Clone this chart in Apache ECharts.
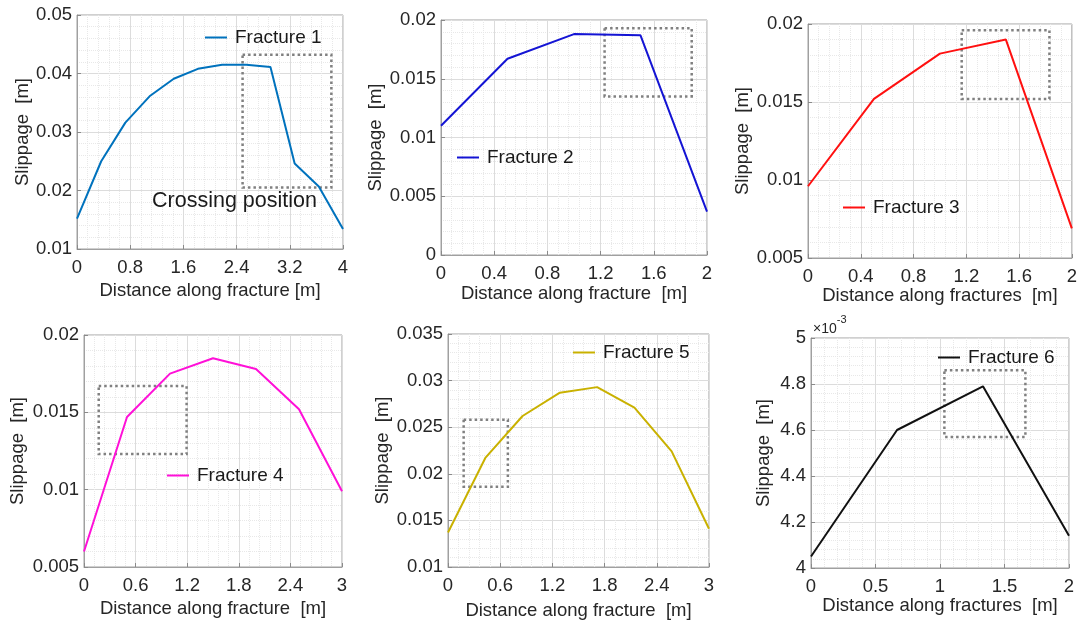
<!DOCTYPE html>
<html>
<head>
<meta charset="utf-8">
<script src="https://cdn.jsdelivr.net/npm/echarts@6/dist/echarts.min.js"></script>
<style>
html,body{margin:0;padding:0;background:#fff;}
#main{width:1080px;height:625px;}
</style>
</head>
<body>
<div id="main"></div>
<script>
// ---- data ----
const names = ['Fracture 1','Fracture 2','Fracture 3','Fracture 4','Fracture 5','Fracture 6'];
const colors = ['#0072bd','#1414d4','#ff1010','#ff10d8','#c9b100','#111111'];
const f1X = [0, 0.364, 0.727, 1.091, 1.455, 1.818, 2.182, 2.545, 2.909, 3.273, 3.636, 4];
const f1Y = [0.0152, 0.0250, 0.0316, 0.0361, 0.0391, 0.0408, 0.0415, 0.0415, 0.0411, 0.0246, 0.0207, 0.0134];
const f2X = [0, 0.5, 1, 1.5, 2];
const f2Y = [0.0110, 0.0167, 0.0188, 0.0187, 0.0037];
const f3X = [0, 0.5, 1, 1.5, 2];
const f3Y = [0.0096, 0.0152, 0.0181, 0.0190, 0.0069];
const f4X = [0, 0.5, 1, 1.5, 2, 2.5, 3];
const f4Y = [0.0060, 0.0147, 0.0175, 0.0185, 0.0178, 0.0152, 0.0099];
const f5X = [0, 0.429, 0.857, 1.286, 1.714, 2.143, 2.571, 3];
const f5Y = [0.0137, 0.0217, 0.0262, 0.0287, 0.0293, 0.0271, 0.0224, 0.0141];
const f6X = [0, 0.667, 1.333, 2];
const f6Y = [0.00405, 0.00460, 0.00479, 0.00414];
// crossing-position boxes: [x1, y1, x2, y2]
const boxes = [
  [2.49, 0.0432, 3.825, 0.0205],
  [1.23, 0.0193, 1.885, 0.0135],
  [1.165, 0.0196, 1.83, 0.0152],
  [0.171, 0.0167, 1.193, 0.0123],
  [0.18, 0.0258, 0.688, 0.0186],
  [1.034, 0.00486, 1.662, 0.00457]
];
// axis ranges: [min, max, interval]
const xRanges = [[0,4,0.8],[0,2,0.4],[0,2,0.4],[0,3,0.6],[0,3,0.6],[0,2,0.5]];
const yRanges = [[0.01,0.05,0.01],[0,0.02,0.005],[0.005,0.02,0.005],[0.005,0.02,0.005],[0.01,0.035,0.005],[0.004,0.005,0.0002]];
const xNames = ['Distance along fracture [m]','Distance along fracture  [m]','Distance along fractures  [m]',
                'Distance along fracture  [m]','Distance along fracture  [m]','Distance along fractures  [m]'];
const yName = 'Slippage  [m]';
const xs = [f1X,f2X,f3X,f4X,f5X,f6X];
const ys = [f1Y,f2Y,f3Y,f4Y,f5Y,f6Y];

// ---- layout ----
const grids = [
  {left:77, top:15, width:266, height:234},
  {left:441, top:20, width:266, height:235},
  {left:808, top:24, width:264, height:234},
  {left:84, top:335, width:258, height:232},
  {left:448, top:334, width:261, height:233},
  {left:811, top:338, width:258, height:230}
];
const yNameGap = [45, 53, 55, 57, 53, 38];
const xNameGap = [32, 29, 24, 32, 34, 23];
const legendPos = [[205,28],[457,148],[843,198],[167,466],[573,343],[938,348]];
const FONT = '"Liberation Sans", Arial, sans-serif';
const FS = 18.5;
const TXT = '#262626';

const option = {
  backgroundColor:'#fff',
  animation:false,
  grid: grids.map(g => Object.assign({show:true, borderColor:'#a0a0a0', borderWidth:1, backgroundColor:'transparent', containLabel:false}, g)),
  xAxis: xRanges.map((r,i)=>({
    type:'value', gridIndex:i, min:r[0], max:r[1], interval:r[2],
    name:xNames[i], nameLocation:'middle', nameGap:xNameGap[i],
    nameTextStyle:{fontFamily:FONT, fontSize:FS, color:TXT},
    axisLine:{show:true, lineStyle:{color:'#a0a0a0'}},
    axisTick:{show:true, inside:true, length:4, lineStyle:{color:'#8a8a8a'}},
    axisLabel:{fontFamily:FONT, fontSize:FS, color:TXT, margin:9},
    splitLine:{show:true, lineStyle:{color:'#dcdcdc', width:1}},
    minorTick:{show:false, splitNumber:5},
    minorSplitLine:{show:true, lineStyle:{color:'#e8e8e8', width:1, type:'dotted'}}
  })),
  yAxis: yRanges.map((r,i)=>({
    type:'value', gridIndex:i, min:r[0], max:r[1], interval:r[2],
    name:yName, nameLocation:'middle', nameGap:yNameGap[i],
    nameTextStyle:{fontFamily:FONT, fontSize:FS, color:TXT},
    axisLine:{show:true, lineStyle:{color:'#a0a0a0'}},
    axisTick:{show:true, inside:true, length:4, lineStyle:{color:'#8a8a8a'}},
    axisLabel:{fontFamily:FONT, fontSize:FS, color:TXT, margin:5,
      formatter: i===5 ? (v => String(Math.round(v*1e4)/10)) : undefined},
    splitLine:{show:true, lineStyle:{color:'#dcdcdc', width:1}},
    minorTick:{show:false, splitNumber:5},
    minorSplitLine:{show:true, lineStyle:{color:'#e8e8e8', width:1, type:'dotted'}}
  })),
  legend: names.map((n,i)=>({
    data:[n], left:legendPos[i][0], top:legendPos[i][1], padding:0,
    icon:'rect', itemWidth:22, itemHeight:2, itemGap:10,
    textStyle:{fontFamily:FONT, fontSize:19, color:'#1a1a1a', padding:[0,0,0,3]},
    backgroundColor:'transparent'
  })),
  series: names.map((n,i)=>({
    name:n, type:'line', xAxisIndex:i, yAxisIndex:i,
    data: xs[i].map((x,k)=>[x, ys[i][k]]),
    showSymbol:false, symbol:'none',
    lineStyle:{color:colors[i], width:2},
    itemStyle:{color:colors[i]},
    markArea:{
      silent:true,
      itemStyle:{color:'rgba(0,0,0,0)', borderColor:'#808080', borderWidth:2.5, borderType:[2.5,3]},
      data:[[{coord:[boxes[i][0], boxes[i][1]]},{coord:[boxes[i][2], boxes[i][3]]}]]
    }
  })),
  graphic:[
    {type:'text', left:152, top:190, z:100, style:{text:'Crossing position', font:'21.5px "Liberation Sans", Arial, sans-serif', fill:'#1a1a1a'}},
    {type:'text', left:813, top:314, z:100, style:{
      text:'{a|×10}{b|-3}',
      rich:{a:{fontFamily:FONT, fontSize:14, fill:TXT, color:TXT, verticalAlign:'bottom', padding:[8,0,0,0]},
            b:{fontFamily:FONT, fontSize:11, fill:TXT, color:TXT, verticalAlign:'top'}}
    }}
  ]
};
const chart = echarts.init(document.getElementById('main'), null, {renderer:'canvas'});
chart.setOption(option);
</script>
</body>
</html>
